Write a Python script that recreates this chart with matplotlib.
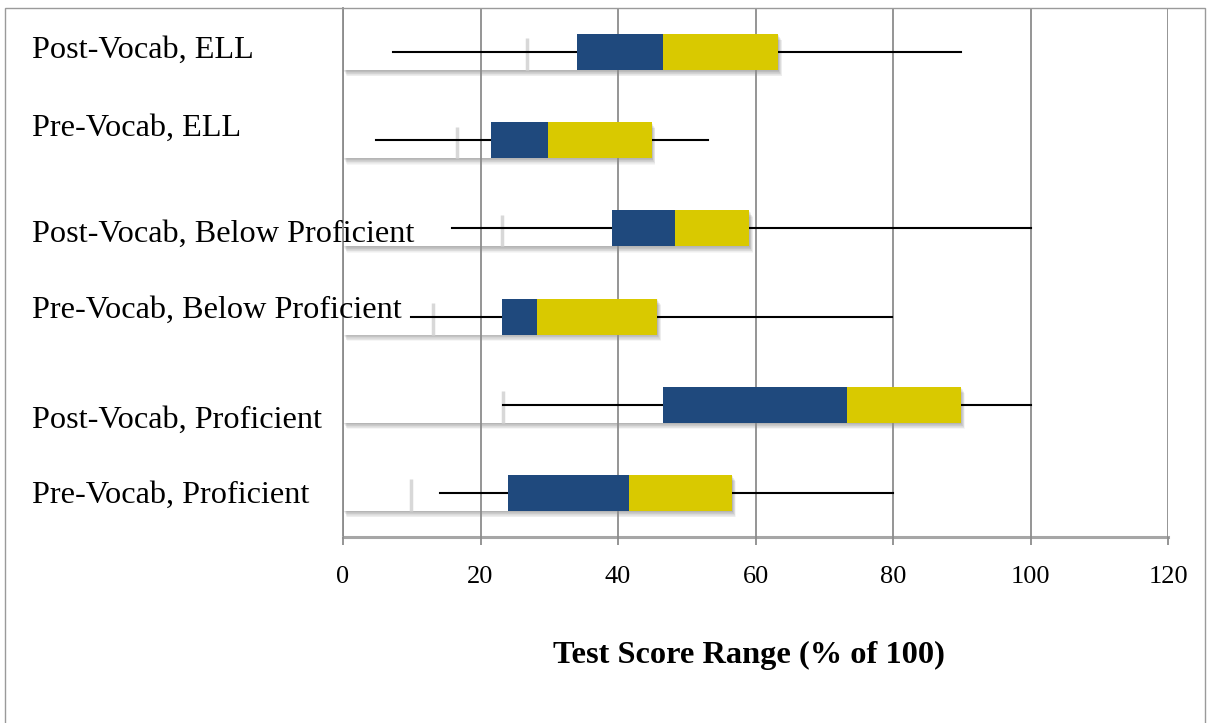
import matplotlib
matplotlib.use("Agg")
import matplotlib.pyplot as plt
import matplotlib.patheffects as pe
import matplotlib.transforms as mtransforms
from matplotlib.patches import Rectangle

# --- Data ---
groups = ["Post-Vocab, ELL", "Pre-Vocab, ELL",
          "Post-Vocab, Below Proficient", "Pre-Vocab, Below Proficient",
          "Post-Vocab, Proficient", "Pre-Vocab, Proficient"]
low_whisker = [7.3, 4.8, 15.9, 9.9, 23.3, 14.1]
first_seg = [26.8, 16.6, 23.1, 13.1, 23.3, 9.9]   # hidden first segment (faint divider)
q1 = [34.0, 21.5, 39.1, 23.1, 46.5, 24.0]
median = [46.5, 29.8, 48.3, 28.2, 73.3, 41.6]
q3 = [63.3, 44.9, 59.1, 45.7, 89.9, 56.6]
high_whisker = [89.9, 53.1, 100.0, 79.9, 100.0, 80.0]
x_ticks = [0, 20, 40, 60, 80, 100, 120]

# label offsets above/below each bar (category units)
label_shift = [0.015, 0.135, -0.065, 0.075, -0.175, -0.025]

blue = "#1f497d"
yellow = "#d9c900"
serif = "Liberation Serif"

fig = plt.figure(figsize=(12.08, 7.23), dpi=100)
ax = fig.add_axes([343 / 1208, 1 - 537 / 723, 825 / 1208, 529 / 723])

n = len(groups)
ypos = [n - 1 - i for i in range(n)]
h = 0.41

# soft shadow under each box (0 .. Q3), several faint layers to fake a blur
shadow = [pe.SimplePatchShadow(offset=(o * 0.6, -o), shadow_rgbFace="black", alpha=0.035)
          for o in (0.5, 1.0, 1.5, 2.0, 2.5, 3.0, 3.5, 4.0, 4.5)]
ax.barh(ypos, q3, left=0, height=h, color="none", edgecolor="none",
        path_effects=shadow, zorder=1.9)

# hidden white segment
ax.barh(ypos, q1, left=0, height=h, color="white", edgecolor="none", zorder=2)

# faint divider inside the hidden segment
for y, v in zip(ypos, first_seg):
    ax.plot([v, v], [y - h / 2, y + h / 2 - 0.05], color="#d8d8d8", lw=2.5,
            solid_capstyle="butt", zorder=2.6)

# whiskers
for y, lo, hi in zip(ypos, low_whisker, high_whisker):
    ax.plot([lo, hi], [y, y], color="black", lw=1.5, zorder=2.7)

# boxes
ax.barh(ypos, [m - a for m, a in zip(median, q1)], left=q1, height=h,
        color=blue, edgecolor="none", zorder=3)
ax.barh(ypos, [b - m for b, m in zip(q3, median)], left=median, height=h,
        color=yellow, edgecolor="none", zorder=3)

ax.set_xlim(0, 120)
ax.set_ylim(-0.5, n - 0.5)
ax.set_axisbelow(False)
ax.xaxis.grid(True, color="#8c8c8c", lw=1.3)
ax.set_xticks(x_ticks)
ax.set_xticklabels([str(t) for t in x_ticks], fontsize=19, family=serif)
ax.tick_params(axis="x", length=6, width=1.3, color="#8c8c8c", pad=15)
ax.set_yticks([])

for side in ["top", "right"]:
    ax.spines[side].set_visible(False)
ax.spines["left"].set_color("#8c8c8c")
ax.spines["left"].set_linewidth(1.3)
ax.spines["bottom"].set_color("#a6a6a6")
ax.spines["bottom"].set_linewidth(2.2)

# category labels
trans = mtransforms.blended_transform_factory(fig.transFigure, ax.transData)
for y, name, s in zip(ypos, groups, label_shift):
    fig.text(32 / 1208, y + s, name, transform=trans, ha="left", va="center",
             fontsize=23.2, family=serif)

fig.text(749 / 1208, 1 - 655 / 723, "Test Score Range (% of 100)", ha="center",
         va="center", fontsize=23.3, fontweight="bold", family=serif)

# chart border
fig.patches.append(Rectangle((5 / 1208, -0.05), 1200 / 1208, 1.05 - 8 / 723,
                             transform=fig.transFigure, fill=False,
                             edgecolor="#9a9a9a", lw=1.0, zorder=0))

fig.savefig("out.png", dpi=100)
